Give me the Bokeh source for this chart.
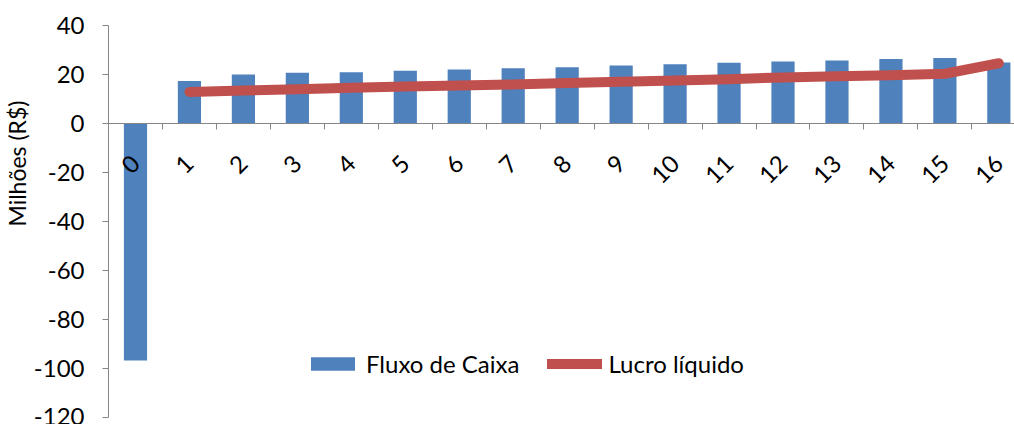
import math
from bokeh.plotting import figure
from bokeh.models import (Range1d, LinearAxis, FixedTicker, Legend, LegendItem,
                          ColumnDataSource, Title)
from bokeh.embed import file_html
from bokeh.resources import INLINE

# ---- data -------------------------------------------------------------
periods = list(range(17))
period_labels = [str(i) for i in periods]
fluxo_caixa = [-96.7, 17.3, 20.0, 20.7, 20.9, 21.5, 22.0, 22.6, 23.0,
               23.7, 24.2, 24.8, 25.3, 25.7, 26.3, 26.7, 24.9]
lucro_periods = list(range(1, 17))
lucro_liquido = [12.9, 13.5, 14.0, 14.6, 15.1, 15.5, 15.9, 16.5, 17.0,
                 17.6, 18.1, 18.8, 19.3, 19.7, 20.3, 24.6]
y_ticks = [40, 20, 0, -20, -40, -60, -80, -100, -120]
y_tick_labels = ["40", "20", "0", "-20", "-40", "-60", "-80", "-100", "-120"]
y_title = "Milhões (R$)"
series_names = ["Fluxo de Caixa", "Lucro líquido"]

FONT = "Lato"
FS = "24px"
AXIS_GRAY = "#868686"
BLUE = "#4F81BD"
RED = "#C0504D"

bar_src = ColumnDataSource(dict(x=periods, top=fluxo_caixa))
line_src = ColumnDataSource(dict(x=lucro_periods, y=lucro_liquido))

p = figure(width=1014, height=424,
           x_range=Range1d(-0.5, 16.29), y_range=Range1d(-120, 40),
           output_backend="svg", toolbar_location=None,
           x_axis_location=None,
           min_border_left=107, min_border_top=25,
           min_border_right=0, min_border_bottom=7)
p.outline_line_color = None
p.xgrid.visible = False
p.ygrid.visible = False
p.background_fill_color = "white"
p.border_fill_color = "white"

bars = p.vbar(x="x", top="top", bottom=0, width=0.43, source=bar_src,
              fill_color=BLUE, line_color=None)
line = p.line(x="x", y="y", source=line_src, line_color=RED, line_width=10,
              line_cap="round", line_join="round")

# y axis
ya = p.yaxis[0]
ya.ticker = FixedTicker(ticks=y_ticks)
ya.major_label_overrides = {t: s for t, s in zip(y_ticks, y_tick_labels)}
ya.minor_tick_line_color = None
ya.major_tick_in = 0
ya.major_tick_out = 6
ya.axis_line_color = AXIS_GRAY
ya.major_tick_line_color = AXIS_GRAY
ya.major_label_text_font = FONT
ya.major_label_text_font_size = FS
ya.major_label_text_color = "black"
ya.major_label_standoff = 18

# y axis title, placed toward the top as in the reference
p.add_layout(Title(text=y_title, align="right", offset=75, standoff=0,
                   text_font=FONT, text_font_size="23px",
                   text_font_style="normal", text_color="black"), "left")

# x axis at y = 0: tick marks between categories
boundaries = [i + 0.5 for i in periods[:-1]]
xa_ticks = LinearAxis(fixed_location=0, ticker=FixedTicker(ticks=boundaries),
                      major_tick_in=0, major_tick_out=6,
                      minor_tick_line_color=None,
                      axis_line_color=AXIS_GRAY, major_tick_line_color=AXIS_GRAY,
                      major_label_text_alpha=0, major_label_text_font_size="1px")
p.add_layout(xa_ticks, "below")

xa_labels = LinearAxis(fixed_location=0, ticker=FixedTicker(ticks=periods),
                       major_label_overrides={i: s for i, s in zip(periods, period_labels)},
                       major_tick_in=0, major_tick_out=0,
                       minor_tick_line_color=None, axis_line_color=None,
                       major_label_text_font=FONT, major_label_text_font_size=FS,
                       major_label_text_color="black",
                       major_label_orientation=math.pi / 4,
                       major_label_standoff=36)
p.add_layout(xa_labels, "below")

legend = Legend(items=[LegendItem(label=series_names[0], renderers=[bars]),
                       LegendItem(label=series_names[1], renderers=[line])],
                location=(197, 39), orientation="horizontal",
                glyph_width=55, glyph_height=17, label_standoff=6, spacing=28,
                padding=0, margin=0, border_line_alpha=0, background_fill_alpha=0,
                label_text_font=FONT, label_text_font_size=FS, label_text_color="black")
p.add_layout(legend)

open("out.html", "w").write(file_html(p, INLINE))
